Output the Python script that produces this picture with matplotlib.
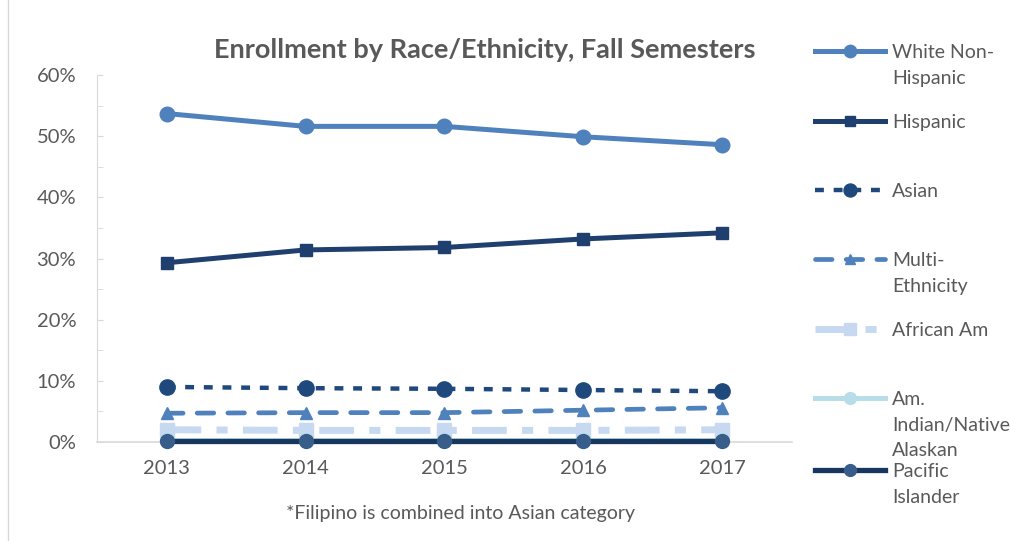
import matplotlib.pyplot as plt
import matplotlib.ticker as mticker
from matplotlib.lines import Line2D

plt.rcParams['font.family'] = ['Lato', 'DejaVu Sans']

years = ['2013', '2014', '2015', '2016', '2017']
white = [53.7, 51.6, 51.6, 49.9, 48.6]
hispanic = [29.3, 31.4, 31.8, 33.2, 34.2]
asian = [9.0, 8.8, 8.7, 8.5, 8.3]
multi = [4.7, 4.8, 4.8, 5.2, 5.6]
african = [2.0, 1.9, 1.9, 1.9, 2.0]
amindian = [0.3, 0.3, 0.3, 0.3, 0.3]
pacific = [0.2, 0.2, 0.2, 0.2, 0.2]

labels = ['White Non-\nHispanic', 'Hispanic', 'Asian', 'Multi-\nEthnicity',
          'African Am', 'Am.\nIndian/Native\nAlaskan', 'Pacific\nIslander']

grey = '#595959'
W = 1010; H = 541
fig = plt.figure(figsize=(10.1, 5.41), dpi=100)
ax = fig.add_axes([97/W, 1-442/H, (792-97)/W, (442-75)/H])

x = range(len(years))
styles = [
    dict(color='#4F81BD', lw=3.6, marker='o', ms=10.5, ls='-'),
    dict(color='#1F3F6E', lw=3.6, marker='s', ms=9, ls='-'),
    dict(color='#1F497D', lw=3.2, marker='o', ms=11, ls=(0, (2.0, 2.2)), dash_capstyle='butt'),
    dict(color='#4F81BD', lw=3.4, marker='^', ms=8, ls=(0, (3.5, 3.0)), dash_capstyle='round'),
    dict(color='#C6D9F1', lw=5, marker='s', ms=10.5, ls=(0, (5, 2.2, 1.6, 2.2)), dash_capstyle='butt'),
    dict(color='#B7DEE8', lw=3.6, marker='o', ms=10, ls='-'),
    dict(color='#17375E', lw=3.8, marker='o', ms=10, ls='-', mfc='#385D8A', mec='#385D8A'),
]
series = [white, hispanic, asian, multi, african, amindian, pacific]
for vals, st in zip(series, styles):
    ax.plot(x, vals, clip_on=False, **st)

ax.set_xlim(-0.5, 4.5)
ax.set_ylim(0, 60)
ax.set_xticks(list(x))
ax.set_xticklabels(years)
ax.yaxis.set_major_locator(mticker.MultipleLocator(10))
ax.yaxis.set_minor_locator(mticker.MultipleLocator(5))
ax.yaxis.set_major_formatter(mticker.FuncFormatter(lambda v, p: '%d%%' % v))
ax.tick_params(axis='y', which='both', direction='in', length=4, color='#D9D9D9',
               labelsize=14.5, labelcolor=grey, pad=15)
ax.tick_params(axis='x', length=0, labelsize=14.5, labelcolor=grey, pad=13)
for s in ['top', 'right']:
    ax.spines[s].set_visible(False)
ax.spines['left'].set_color('#D9D9D9')
ax.spines['bottom'].set_color('#D9D9D9')
ax.spines['bottom'].set_linewidth(1.2)
ax.spines['bottom'].set_zorder(0)
ax.patch.set_visible(False)

fig.text(485/W, 1-50/H, 'Enrollment by Race/Ethnicity, Fall Semesters', ha='center', va='center',
         fontsize=19.5, fontweight='bold', color=grey)
fig.text(461/W, 1-513/H, '*Filipino is combined into Asian category', ha='center', va='center',
         fontsize=14, color=grey)

# legend drawn by hand to match the uneven layout
leg_y = [51, 121, 190, 259, 329, 398, 470]
for yy, st, lab in zip(leg_y, styles, labels):
    fy = 1 - yy/H
    st2 = dict(st)
    mk = st2.pop('marker'); ms = st2.pop('ms')
    mfc = st2.pop('mfc', st['color']); mec = st2.pop('mec', st['color'])
    fig.add_artist(Line2D([815/W, 885/W], [fy, fy], transform=fig.transFigure, **st2))
    fig.add_artist(Line2D([850/W], [fy], transform=fig.transFigure, marker=mk,
                          ms=ms*0.85, mfc=mfc, mec=mec, ls='none'))
    fig.text(892/W, fy + 7/H, lab, ha='left', va='top', fontsize=14, color=grey,
             linespacing=1.62)

fig.add_artist(Line2D([8/W, 8/W], [0, 1], transform=fig.transFigure, color='#D9D9D9', lw=1))

fig.savefig('out.png', dpi=100)
